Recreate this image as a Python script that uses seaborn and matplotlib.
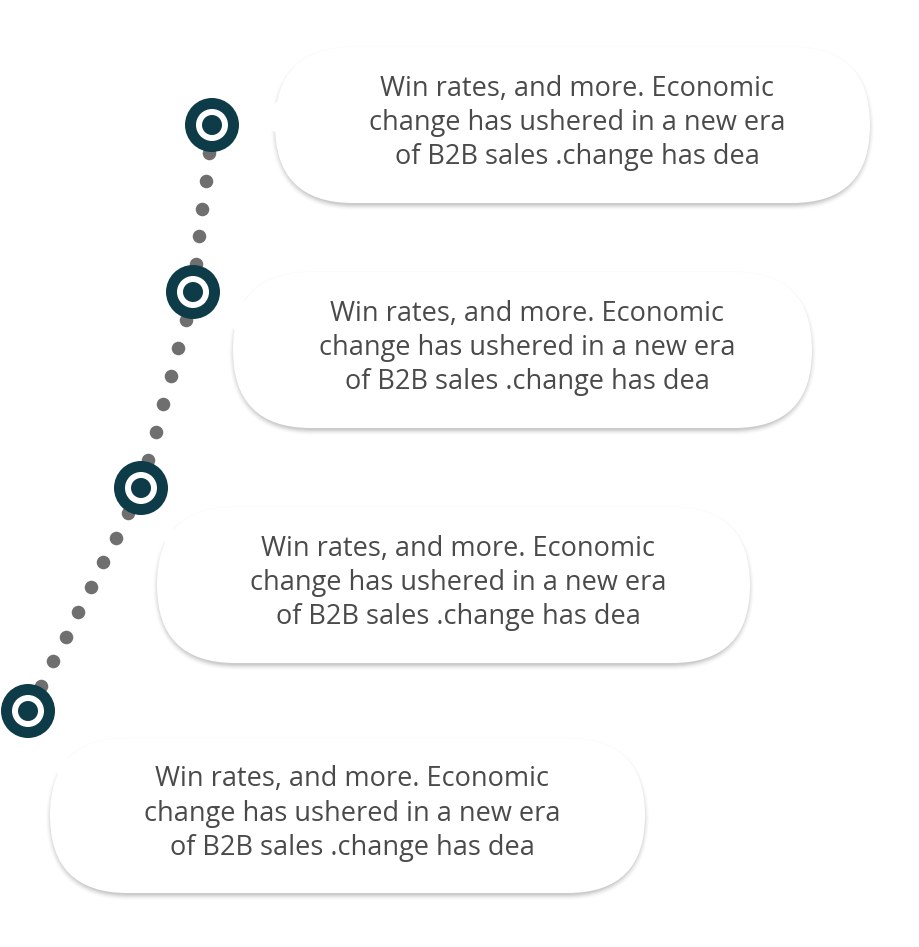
import matplotlib
matplotlib.use('Agg')
import matplotlib.pyplot as plt
import seaborn as sns
import numpy as np
from matplotlib.patches import FancyBboxPatch, Polygon, Circle

sns.set_style("white")
plt.rcParams['font.family'] = ['Open Sans', 'DejaVu Sans']

# step markers (pixel coords, y down)
marker_x = [212, 193, 141, 28]
marker_y = [125, 292, 488, 711]
# bubbles: left, top, right, bottom
box_left = [275, 233, 157, 50]
box_top = [47, 272, 507, 738]
box_right = [870, 812, 750, 645]
box_bottom = [203, 428, 663, 893]
# pointer tips
tip_x = [255, 215, 158, 48]
tip_y = [125, 305, 525, 748]
texts = ["Win rates, and more. Economic\nchange has ushered in a new era\nof B2B sales .change has dea"] * 4

DARK = '#0d3c48'
GRAY_DOT = '#6f6f6f'
TEXT = '#4a4a4a'

fig = plt.figure(figsize=(9.2, 9.47), dpi=100)
ax = fig.add_axes([0, 0, 1, 1])
ax.set_xlim(0, 920)
ax.set_ylim(947, 0)
ax.axis('off')

# dotted connectors
for i in range(len(marker_x) - 1):
    x0, y0, x1, y1 = marker_x[i], marker_y[i], marker_x[i + 1], marker_y[i + 1]
    d = np.hypot(x1 - x0, y1 - y0)
    n = int(d // 27)
    t = np.linspace(0, 1, n + 1)[1:-1]
    t = t[(t * d > 22) & ((1 - t) * d > 22)]
    ax.scatter(x0 + (x1 - x0) * t, y0 + (y1 - y0) * t, s=95, color=GRAY_DOT, zorder=2, linewidths=0)

# bubbles
for i in range(4):
    l, tp, r, b = box_left[i], box_top[i], box_right[i], box_bottom[i]
    w, h = r - l, b - tp
    for k, a in zip(range(6, 0, -1), [0.015, 0.02, 0.03, 0.04, 0.05, 0.05]):
        ax.add_patch(FancyBboxPatch((l - k + 2, tp - k + 5), w + 2 * k - 4, h + 2 * k - 4,
                                    boxstyle=f"round,pad=0,rounding_size={h / 2 + k}",
                                    fc='black', ec='none', alpha=a, zorder=3))
    ax.add_patch(Polygon([(tip_x[i], tip_y[i]), (l + 30, tp + 25), (l + 30, tp + 95)],
                         closed=True, fc='white', ec='none', zorder=4))
    ax.add_patch(FancyBboxPatch((l, tp), w, h, boxstyle=f"round,pad=0,rounding_size={h / 2}",
                                fc='white', ec='none', zorder=4))
    ax.text((l + r) / 2 + 5, (tp + b) / 2 - 2, texts[i], ha='center', va='center', fontsize=19.5,
            color=TEXT, linespacing=1.3, zorder=5)

# markers
for x, y in zip(marker_x, marker_y):
    ax.add_patch(Circle((x, y), 27, fc=DARK, ec='none', zorder=6))
    ax.add_patch(Circle((x, y), 16, fc='white', ec='none', zorder=7))
    ax.add_patch(Circle((x, y), 10, fc=DARK, ec='none', zorder=8))

fig.savefig('out.png', dpi=100, facecolor='white')
